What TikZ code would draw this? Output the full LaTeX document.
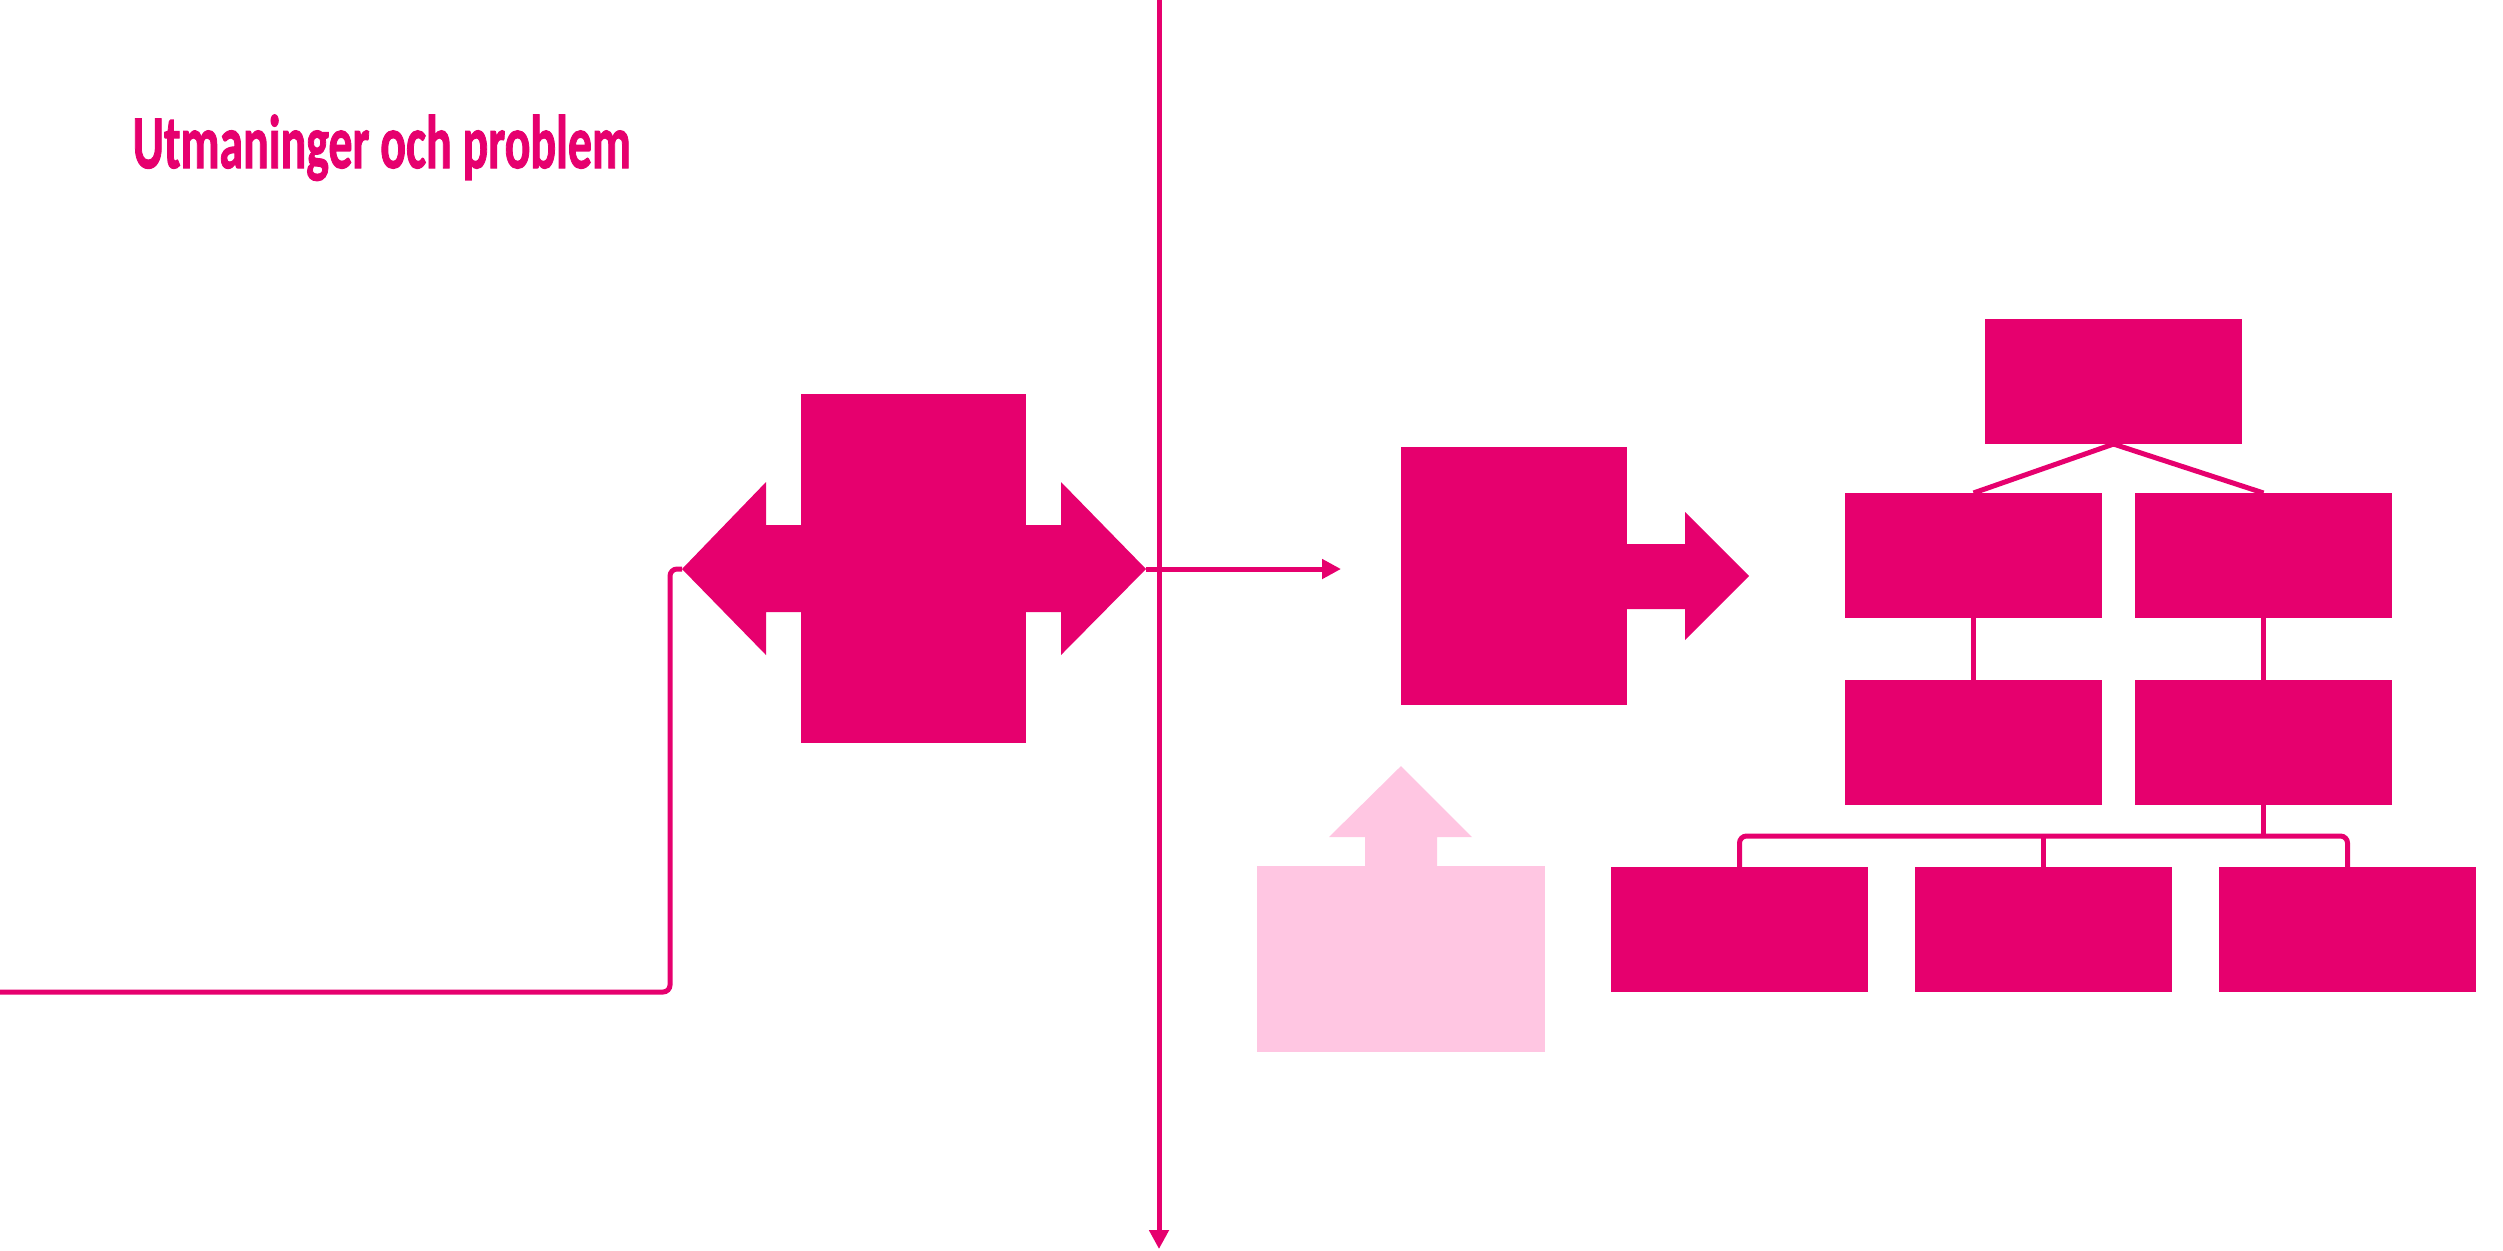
\documentclass[tikz,border=0pt]{standalone}
\usepackage{graphicx}
\usepackage{fontspec}
\setmainfont{Carlito}
\newfontfamily\titlefont{Carlito}[BoldFeatures={FakeBold=1.6}]
\usetikzlibrary{arrows.meta}
\definecolor{mag}{HTML}{E6006E}
\definecolor{lpink}{HTML}{FFC6E2}
\begin{document}
\begin{tikzpicture}[x=0.01cm,y=-0.01cm,
  box/.style={rectangle,fill=mag,draw=none,inner sep=0pt,outer sep=0pt,minimum width=2.57cm,minimum height=1.25cm},
  link/.style={draw=mag,line width=0.05cm},
  arr/.style={-{Triangle[length=0.19cm,width=0.19cm]}},
  shapefill/.style={fill=mag,draw=none}]
\useasboundingbox (0,0) rectangle (2503,1250);

% title
\node[anchor=base west,text=mag,font=\titlefont\bfseries\fontsize{21.6}{24}\selectfont,inner sep=0pt] (title) at (132,168) {\scalebox{0.63}[1]{Utmaninger och problem}};

% cross shape
\node[rectangle,fill=mag,inner sep=0pt,minimum width=2.25cm,minimum height=3.49cm] (c1) at (913.5,568.5) {};
\coordinate (ltip) at (682,569);
\coordinate (rtip) at (1146,569);
\fill[mag] (ltip) -- (766,482) -- (766,525) -- (1061,525) -- (1061,482) -- (rtip)
  -- (1061,655) -- (1061,612) -- (766,612) -- (766,655) -- cycle;

% left line
\coordinate (lstart) at (-5,992);
\coordinate (lc) at (670,992);
\draw[link,rounded corners=2] (lstart) -- (lc) |- (ltip);

% vertical line
\coordinate (vtop) at (1159,-5);
\coordinate (vbot) at (1159,1249);
\draw[link,arr] (vtop) -- (vbot);

% horizontal arrow
\coordinate (hend) at (1341,569);
\draw[link,arr] (rtip) -- (hend);

% right shape
\node[rectangle,fill=mag,inner sep=0pt,minimum width=2.26cm,minimum height=2.58cm] (r1) at (1514,576) {};
\fill[mag] (1620,544) -- (1685,544) -- (1685,512) -- (1749,576) -- (1685,640) -- (1685,609) -- (1620,609) -- cycle;

% pink shape
\node[rectangle,fill=lpink,inner sep=0pt,minimum width=2.88cm,minimum height=1.86cm] (p1) at (1401,959) {};
\fill[lpink] (1365,870) -- (1365,837) -- (1329,837) -- (1401,766) -- (1472,837) -- (1437,837) -- (1437,870) -- cycle;

% tree
\node[box] (t0) at (2113.5,381.5) {};
\node[box] (r2l) at (1973.5,555.5) {};
\node[box] (r2r) at (2263.5,555.5) {};
\node[box] (r3l) at (1973.5,742.5) {};
\node[box] (r3r) at (2263.5,742.5) {};
\node[box] (b1) at (1739.5,929.5) {};
\node[box] (b2) at (2043.5,929.5) {};
\node[box] (b3) at (2347.5,929.5) {};

\draw[link] (r2l.north) -- (t0.south) -- (r2r.north);
\draw[link] (r2l.south) -- (r3l.north);
\draw[link] (r2r.south) -- (r3r.north);
\coordinate (bar) at (2263.5,836);
\draw[link] (r3r.south) -- (bar);
\draw[link,rounded corners=2] (b1.north) |- (bar) -| (b3.north);
\draw[link] (b2.north) -- (b2.north |- bar);
\end{tikzpicture}
\end{document}
